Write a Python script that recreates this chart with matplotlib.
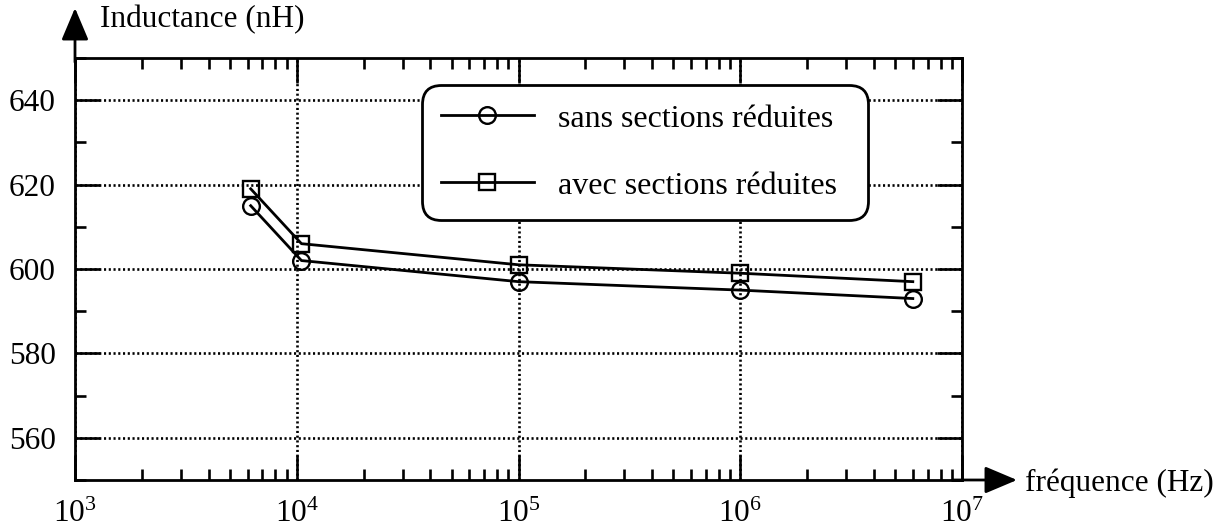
import matplotlib
matplotlib.use("Agg")
import matplotlib.pyplot as plt
from matplotlib.ticker import LogLocator, MultipleLocator, NullFormatter

plt.rcParams['font.family'] = ['Liberation Serif', 'DejaVu Serif']
plt.rcParams['mathtext.fontset'] = 'custom'
plt.rcParams['mathtext.rm'] = 'Liberation Serif'
plt.rcParams['mathtext.it'] = 'Liberation Serif'
plt.rcParams['mathtext.default'] = 'regular'

# Data
freq = [6200, 1.05e4, 1e5, 1e6, 6.0e6]
sans_sections = [615, 602, 597, 595, 593]
avec_sections = [619, 606, 601, 599, 597]
labels = ["sans sections réduites", "avec sections réduites"]
ylabel = "Inductance (nH)"
xlabel = "fréquence (Hz)"

FS = 22.5
LFS = 23
fig = plt.figure(figsize=(12.29, 5.27), dpi=100)
ax = fig.add_axes([75/1229, 1-480/527, (962-75)/1229, (480-58)/527])

ax.plot(freq, sans_sections, color='k', lw=2.0, marker='o', ms=12,
        mfc='none', mec='k', mew=1.7, label=labels[0], zorder=3)
ax.plot(freq, avec_sections, color='k', lw=2.0, marker='s', ms=11.5,
        mfc='none', mec='k', mew=1.7, label=labels[1], zorder=3)

ax.set_xscale('log')
ax.set_xlim(1e3, 1e7)
ax.set_ylim(550, 650)
ax.xaxis.set_major_locator(LogLocator(base=10, numticks=10))
ax.xaxis.set_minor_locator(LogLocator(base=10, subs=range(2, 10), numticks=20))
ax.xaxis.set_minor_formatter(NullFormatter())
ax.yaxis.set_minor_locator(MultipleLocator(10))
ax.set_yticks([560, 580, 600, 620, 640])

ax.tick_params(which='both', direction='in', top=True, right=True,
               labelsize=FS, width=1.9, colors='k')
ax.tick_params(which='major', length=18, pad=14)
ax.tick_params(which='minor', length=8)

for s in ax.spines.values():
    s.set_linewidth(2.0)

ax.grid(True, which='major', color='k', linestyle=(0, (0.8, 1.0)), lw=1.9)

leg = ax.legend(loc='upper left',
                bbox_to_anchor=((422-75)/887, (480-85)/422, (868-422)/887, 0),
                mode='expand',
                borderaxespad=0, fontsize=LFS, handlelength=2.9,
                handletextpad=0.75, labelspacing=1.18, borderpad=0.6,
                frameon=True, fancybox=True, framealpha=1)
fr = leg.get_frame()
fr.set_edgecolor('k')
fr.set_linewidth(2.0)
fr.set_boxstyle('round,pad=0,rounding_size=0.6')
leg.set_zorder(5)

# Axis arrows
ax.annotate('', xy=(0, 1 + 50/422), xycoords='axes fraction',
            xytext=(0, 0.99), textcoords='axes fraction',
            arrowprops=dict(arrowstyle='-|>,head_length=0.9,head_width=0.38',
                            mutation_scale=22, lw=2.0, color='k',
                            shrinkA=0, shrinkB=0), annotation_clip=False)
ax.annotate('', xy=(1 + 55/887, 0), xycoords='axes fraction',
            xytext=(0.99, 0), textcoords='axes fraction',
            arrowprops=dict(arrowstyle='-|>,head_length=0.9,head_width=0.38',
                            mutation_scale=22, lw=2.0, color='k',
                            shrinkA=0, shrinkB=0), annotation_clip=False)

fig.text(100/1229, 1-20/527, ylabel, fontsize=FS, ha='left', va='center')
fig.text(1025/1229, 1-483/527, xlabel, fontsize=FS, ha='left', va='center')

fig.savefig('out.png', dpi=100)
